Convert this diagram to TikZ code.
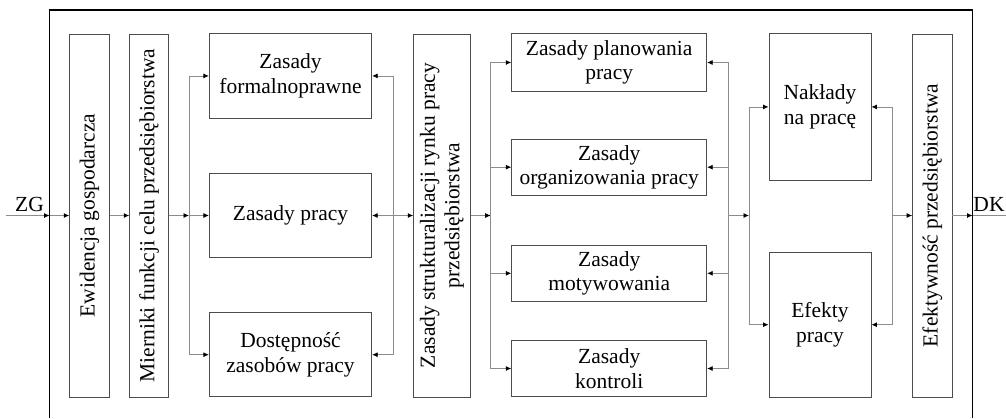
\documentclass[tikz,border=0pt]{standalone}
\usepackage{fontspec}
\setmainfont{Liberation Serif}
\newfontfamily\boxfont{Liberation Serif}
\usetikzlibrary{arrows.meta}

\begin{document}
\begin{tikzpicture}[x=1pt,y=-1pt,
  txt/.style={font=\boxfont\fontsize{21.5}{24.5}\selectfont},
  box/.style={txt, draw=black!70, line width=0.9pt, inner sep=0pt, align=center},
  link/.style={draw=black!45, line width=0.8pt},
  tip/.style={-{Latex[length=5.5pt,width=5pt,color=black]}},
  frame/.style={draw=black, line width=1.1pt}]
\useasboundingbox (0,0) rectangle (1006,418);

% outer frame, open at the bottom
\draw[frame] (49.5,418) -- (49.5,10) -- (972.5,10) -- (972.5,418);

% tall columns
\node[box, minimum width=39.6pt, minimum height=363pt] (ew) at (89.5,215.5)
  {\rotatebox{90}{Ewidencja gospodarcza}};
\node[box, minimum width=38.6pt, minimum height=363pt] (mi) at (149,215.5)
  {\rotatebox{90}{Mierniki funkcji celu przedsiębiorstwa}};
\node[box, minimum width=57pt, minimum height=363pt] (st) at (442.2,215.5)
  {\rotatebox{90}{\begin{tabular}{@{}c@{}}Zasady strukturalizacji rynku pracy\\przedsiębiorstwa\end{tabular}}};
\node[box, minimum width=39.3pt, minimum height=363pt] (efk) at (932.3,215.5)
  {\rotatebox{90}{Efektywność przedsiębiorstwa}};

% first group
\node[box, minimum width=162.4pt, minimum height=84.3pt] (fo) at (290.5,75.9)
  {Zasady\\formalnoprawne};
\node[box, minimum width=162.4pt, minimum height=84.6pt] (pr) at (290.5,215.5)
  {Zasady pracy};
\node[box, minimum width=162.4pt, minimum height=84pt] (do) at (290.5,354.7)
  {Dostępność\\zasobów pracy};

% second group
\node[box, minimum width=195pt, minimum height=57.6pt] (pl) at (609.2,62.5)
  {Zasady planowania\\pracy};
\node[box, minimum width=195pt, minimum height=56.3pt] (or) at (609.2,167.2)
  {Zasady\\organizowania pracy};
\node[box, minimum width=195pt, minimum height=56.7pt] (mo) at (609.2,273.3)
  {Zasady\\motywowania};
\node[box, minimum width=195pt, minimum height=56.4pt] (ko) at (609.2,368.5)
  {Zasady\\kontroli};

% third group
\node[box, minimum width=102pt, minimum height=146.3pt] (na) at (820,106.9)
  {Nakłady\\na pracę};
\node[box, minimum width=102pt, minimum height=144.7pt] (ef) at (820,324.7)
  {Efekty\\pracy};

% input and output labels
\node[txt, anchor=base, inner sep=0pt] (zg) at (29.5,211) {ZG};
\node[txt, anchor=base, inner sep=0pt] (dk) at (989,211) {DK};

% junction points on the main line
\coordinate (zin) at (6,215.5);
\coordinate (fin) at (49.5,215.5);
\coordinate (j1) at (189,215.5);
\coordinate (j2) at (393,215.5);
\coordinate (j3) at (490.7,215.5);
\coordinate (j4) at (728.3,215.5);
\coordinate (j5) at (749,215.5);
\coordinate (j6) at (892.7,215.5);
\coordinate (fout) at (972.5,215.5);
\coordinate (zout) at (1006,215.5);

% connectors
\draw[link,tip] (zin) -- (fin);
\draw[link,tip] (fin) -- (ew.west);
\draw[link,tip] (ew.east) -- (mi.west);
\draw[link,tip] (mi.east) -- (j1);
\draw[link,tip] (j1) -- (pr.west);
\draw[link,tip] (j1) |- (fo.west);
\draw[link,tip] (j1) |- (do.west);

\draw[link,tip] (j2) -- (pr.east);
\draw[link,tip] (j2) -- (st.west);
\draw[link,tip] (j2) |- (fo.east);
\draw[link,tip] (j2) |- (do.east);

\draw[link,tip] (st.east) -- (j3);
\draw[link,tip] (j3) |- (pl.west);
\draw[link,tip] (j3) |- (or.west);
\draw[link,tip] (j3) |- (mo.west);
\draw[link,tip] (j3) |- (ko.west);

\draw[link,tip] (j4) |- (pl.east);
\draw[link,tip] (j4) |- (or.east);
\draw[link,tip] (j4) |- (mo.east);
\draw[link,tip] (j4) |- (ko.east);
\draw[link,tip] (j4) -- (j5);
\draw[link,tip] (j5) |- (na.west);
\draw[link,tip] (j5) |- (ef.west);

\draw[link,tip] (j6) |- (na.east);
\draw[link,tip] (j6) |- (ef.east);
\draw[link,tip] (j6) -- (efk.west);

\draw[link,tip] (efk.east) -- (fout);
\draw[link] (fout) -- (zout);
\end{tikzpicture}
\end{document}
